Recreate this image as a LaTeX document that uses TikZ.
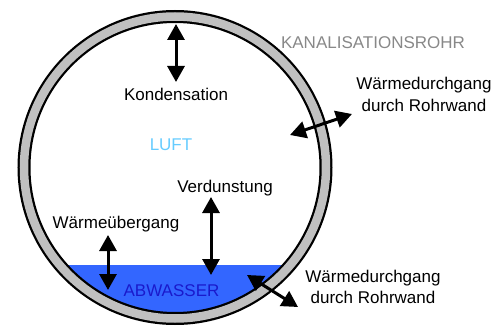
\documentclass[tikz,border=0pt]{standalone}
\usepackage{fontspec}
\setmainfont{Liberation Sans}
\usetikzlibrary{arrows.meta}
\definecolor{ringgray}{HTML}{C0C0C0}
\definecolor{water}{HTML}{3366FF}
\definecolor{waterlabel}{HTML}{1A1ACC}
\definecolor{airlabel}{HTML}{66CCFF}
\definecolor{pipelabel}{HTML}{888888}
\begin{document}
\begin{tikzpicture}[x=1pt,y=-1pt,
  lbl/.style={font=\fontsize{17}{21}\selectfont, inner sep=0pt, anchor=base, align=center},
  dblarrow/.style={line width=3pt, {Triangle[length=16pt,width=17pt]}-{Triangle[length=16pt,width=17pt]}}]
\useasboundingbox (0,0) rectangle (504,329);
% water
\begin{scope}
  \clip (175,167.5) circle (145);
  \fill[water] (0,265) rectangle (504,340);
\end{scope}
% pipe ring
\draw[line width=13pt] (175,167.5) circle (151);
\draw[ringgray, line width=8.5pt] (175,167.5) circle (151);
% labels
\node[lbl] (kond) at (176,100) {Kondensation};
\node[lbl, text=airlabel] (luft) at (171,150) {LUFT};
\node[lbl] (verd) at (225,192) {Verdunstung};
\node[lbl] (wue) at (116,228) {Wärmeübergang};
\node[lbl, text=waterlabel] (abw) at (171.5,296) {ABWASSER};
\node[lbl, text=pipelabel] (rohr) at (373,49) {KANALISATIONSROHR};
\node[lbl, anchor=base] (wd1) at (424,111) {Wärmedurchgang\\durch Rohrwand};
\node[lbl, anchor=base] (wd2) at (373,303) {Wärmedurchgang\\durch Rohrwand};
% arrow endpoints
\coordinate (k1) at (176,24);  \coordinate (k2) at (176,82);
\coordinate (v1) at (211,197); \coordinate (v2) at (211,275);
\coordinate (u1) at (108,235); \coordinate (u2) at (108,290);
\coordinate (t1) at (290,135); \coordinate (t2) at (352,114);
\coordinate (b1) at (247,275); \coordinate (b2) at (298,307);
\draw[dblarrow] (k1) -- (k2);
\draw[dblarrow] (v1) -- (v2);
\draw[dblarrow] (u1) -- (u2);
\draw[dblarrow] (t1) -- (t2);
\draw[dblarrow] (b1) -- (b2);
\end{tikzpicture}
\end{document}
